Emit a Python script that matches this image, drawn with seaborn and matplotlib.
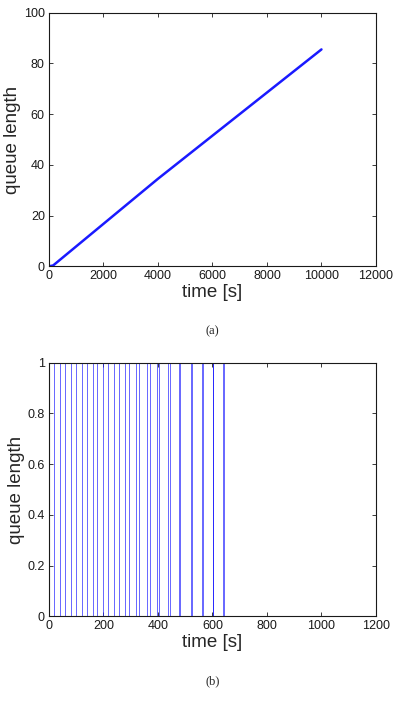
import numpy as np
import pandas as pd
import matplotlib
matplotlib.use('Agg')
import matplotlib.pyplot as plt
import seaborn as sns

sns.set_style('ticks')
plt.rcParams['font.family'] = ['Liberation Sans', 'DejaVu Sans']
plt.rcParams['xtick.direction'] = 'in'
plt.rcParams['ytick.direction'] = 'in'
plt.rcParams['xtick.top'] = True
plt.rcParams['ytick.right'] = True

# (a) queue length growing over time
growth_time = [0, 150, 4000, 10000]
growth_len = [0, 0.3, 34.5, 85.5]

# (b) queue switching between 0 and 1: arrival and departure instants [s]
arrivals = [0, 40, 80, 120, 160, 199, 239, 280, 318, 361, 397, 438, 478, 520, 560, 601, 640]
departures = [20, 60, 100, 140, 177, 215, 257, 295, 331, 371, 403, 445, 482, 524, 564, 603, 641]
end_time = 1000

# build the step trace for (b)
step_t, step_q = [], []
for a, d in zip(arrivals, departures):
    step_t += [a, a, d, d]
    step_q += [0, 1, 1, 0]
step_t.append(end_time)
step_q.append(0)

df_a = pd.DataFrame({'time': growth_time, 'queue': growth_len})
df_b = pd.DataFrame({'time': step_t, 'queue': step_q})

fig = plt.figure(figsize=(3.97, 7.02), dpi=100)
ax1 = fig.add_axes([0.1234, 0.6207, 0.8236, 0.3613])
ax2 = fig.add_axes([0.1234, 0.1221, 0.8236, 0.3613])

sns.lineplot(data=df_a, x='time', y='queue', ax=ax1, color='#1a1aff',
             linewidth=1.8, estimator=None, sort=False)
sns.lineplot(data=df_b, x='time', y='queue', ax=ax2, color='#2a2aff',
             linewidth=0.5, estimator=None, sort=False)

ax1.set_xlim(0, 12000)
ax1.set_ylim(0, 100)
ax1.set_xticks(np.arange(0, 12001, 2000))
ax1.set_yticks(np.arange(0, 101, 20))

ax2.set_xlim(0, 1200)
ax2.set_ylim(0, 1)
ax2.set_xticks(np.arange(0, 1201, 200))
ax2.set_yticks([0, 0.2, 0.4, 0.6, 0.8, 1])
ax2.set_yticklabels(['0', '0.2', '0.4', '0.6', '0.8', '1'])

for ax, tag in [(ax1, '(a)'), (ax2, '(b)')]:
    ax.set_xlabel('time [s]', fontsize=13.5, labelpad=1)
    ax.set_ylabel('queue length', fontsize=13.5, labelpad=2)
    ax.tick_params(labelsize=9, length=3, width=0.6, pad=3, colors='#1a1a1a')
    for s in ax.spines.values():
        s.set_linewidth(0.8)
        s.set_color('#1a1a1a')
    ax.text(0.5, -0.258, tag, transform=ax.transAxes, ha='center', va='center',
            fontsize=9, family='Liberation Serif')

fig.savefig('out.png', dpi=100)
